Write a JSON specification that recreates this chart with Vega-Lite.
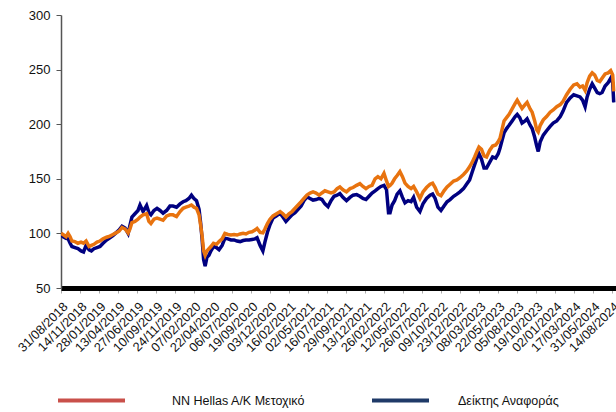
{
  "$schema": "https://vega.github.io/schema/vega-lite/v6.json",
  "width": 555,
  "height": 273,
  "autosize": {"type": "none"},
  "padding": {"left": 61, "top": 15, "right": 0, "bottom": 124},
  "background": "white",
  "config": {
    "view": {"stroke": null},
    "font": "Liberation Sans",
    "axisY": {
      "title": null,
      "grid": false,
      "labelFontSize": 13,
      "labelColor": "#111111",
      "labelPadding": 6,
      "tickSize": 5,
      "tickColor": "#555555",
      "domainColor": "#555555",
      "domainWidth": 1.5
    },
    "legend": {
      "title": null,
      "orient": "none",
      "direction": "horizontal",
      "symbolType": "stroke",
      "symbolStrokeWidth": 4,
      "labelFontSize": 12.5,
      "labelColor": "#111111",
      "labelLimit": 300
    }
  },
  "data": {
    "values": [
      {"d":"2018-08-31","nn":100,"idx":100},
      {"d":"2018-09-08","nn":99,"idx":97},
      {"d":"2018-09-20","nn":97,"idx":95.5},
      {"d":"2018-09-28","nn":100,"idx":95},
      {"d":"2018-10-06","nn":97,"idx":91},
      {"d":"2018-10-13","nn":93,"idx":88},
      {"d":"2018-10-25","nn":92.5,"idx":87},
      {"d":"2018-11-06","nn":91,"idx":86},
      {"d":"2018-11-18","nn":92,"idx":84},
      {"d":"2018-11-28","nn":91,"idx":83},
      {"d":"2018-12-08","nn":93,"idx":89},
      {"d":"2018-12-20","nn":88,"idx":85},
      {"d":"2018-12-29","nn":89,"idx":84},
      {"d":"2019-01-08","nn":90,"idx":86},
      {"d":"2019-01-20","nn":92,"idx":87},
      {"d":"2019-02-01","nn":93,"idx":88},
      {"d":"2019-02-13","nn":95,"idx":91},
      {"d":"2019-02-27","nn":96.5,"idx":94},
      {"d":"2019-03-12","nn":97.5,"idx":96},
      {"d":"2019-03-24","nn":99,"idx":98},
      {"d":"2019-04-05","nn":100.5,"idx":100.5},
      {"d":"2019-04-17","nn":102,"idx":103},
      {"d":"2019-04-29","nn":105.5,"idx":106.5},
      {"d":"2019-05-11","nn":104,"idx":105},
      {"d":"2019-05-23","nn":100.5,"idx":100},
      {"d":"2019-05-30","nn":104,"idx":107},
      {"d":"2019-06-07","nn":110,"idx":115},
      {"d":"2019-06-19","nn":111,"idx":118},
      {"d":"2019-07-01","nn":113,"idx":121},
      {"d":"2019-07-09","nn":115,"idx":126},
      {"d":"2019-07-21","nn":117,"idx":120},
      {"d":"2019-08-04","nn":118,"idx":125.5},
      {"d":"2019-08-13","nn":111,"idx":119},
      {"d":"2019-08-21","nn":109,"idx":117},
      {"d":"2019-09-02","nn":113,"idx":121},
      {"d":"2019-09-14","nn":114,"idx":123},
      {"d":"2019-09-26","nn":113,"idx":121},
      {"d":"2019-10-08","nn":112,"idx":118.5},
      {"d":"2019-10-22","nn":116,"idx":121},
      {"d":"2019-11-04","nn":117,"idx":125},
      {"d":"2019-11-16","nn":117,"idx":125},
      {"d":"2019-11-30","nn":115.5,"idx":124},
      {"d":"2019-12-14","nn":120,"idx":127},
      {"d":"2019-12-26","nn":123,"idx":129},
      {"d":"2020-01-06","nn":124,"idx":130},
      {"d":"2020-01-18","nn":125,"idx":132},
      {"d":"2020-01-28","nn":126,"idx":135},
      {"d":"2020-02-07","nn":124,"idx":132},
      {"d":"2020-02-17","nn":123,"idx":130},
      {"d":"2020-02-27","nn":117,"idx":122},
      {"d":"2020-03-04","nn":108,"idx":110},
      {"d":"2020-03-10","nn":98,"idx":95},
      {"d":"2020-03-16","nn":84,"idx":76},
      {"d":"2020-03-22","nn":80,"idx":70},
      {"d":"2020-03-29","nn":84,"idx":78},
      {"d":"2020-04-06","nn":86,"idx":80},
      {"d":"2020-04-14","nn":88,"idx":84},
      {"d":"2020-04-24","nn":91,"idx":88},
      {"d":"2020-05-06","nn":90,"idx":87},
      {"d":"2020-05-16","nn":92.5,"idx":85},
      {"d":"2020-05-28","nn":95,"idx":89},
      {"d":"2020-06-08","nn":100,"idx":95.5},
      {"d":"2020-06-20","nn":99,"idx":95},
      {"d":"2020-07-02","nn":98.5,"idx":94},
      {"d":"2020-07-14","nn":99,"idx":94},
      {"d":"2020-07-26","nn":98.5,"idx":93},
      {"d":"2020-08-07","nn":99.5,"idx":92.5},
      {"d":"2020-08-19","nn":100,"idx":93.5},
      {"d":"2020-08-30","nn":99.5,"idx":94},
      {"d":"2020-09-11","nn":101,"idx":94},
      {"d":"2020-09-23","nn":101.5,"idx":94.5},
      {"d":"2020-10-05","nn":103,"idx":95},
      {"d":"2020-10-13","nn":104.5,"idx":96},
      {"d":"2020-10-25","nn":101,"idx":89},
      {"d":"2020-11-05","nn":100.5,"idx":84},
      {"d":"2020-11-13","nn":104,"idx":92},
      {"d":"2020-11-23","nn":109,"idx":101},
      {"d":"2020-12-03","nn":113,"idx":108},
      {"d":"2020-12-15","nn":116,"idx":114},
      {"d":"2020-12-29","nn":118,"idx":116},
      {"d":"2021-01-12","nn":120,"idx":118.5},
      {"d":"2021-01-23","nn":118,"idx":115},
      {"d":"2021-02-04","nn":115,"idx":111},
      {"d":"2021-02-16","nn":118,"idx":114},
      {"d":"2021-02-28","nn":120,"idx":117},
      {"d":"2021-03-12","nn":123,"idx":119},
      {"d":"2021-03-24","nn":126,"idx":122},
      {"d":"2021-04-05","nn":129,"idx":125},
      {"d":"2021-04-16","nn":132,"idx":130},
      {"d":"2021-04-28","nn":135,"idx":133.5},
      {"d":"2021-05-10","nn":137,"idx":132},
      {"d":"2021-05-22","nn":138,"idx":130.5},
      {"d":"2021-06-03","nn":137,"idx":131},
      {"d":"2021-06-15","nn":135,"idx":132},
      {"d":"2021-06-26","nn":137,"idx":131},
      {"d":"2021-07-08","nn":139,"idx":127},
      {"d":"2021-07-20","nn":138,"idx":124.5},
      {"d":"2021-08-01","nn":137,"idx":130},
      {"d":"2021-08-13","nn":138,"idx":134},
      {"d":"2021-08-25","nn":141,"idx":135},
      {"d":"2021-09-05","nn":142.5,"idx":136.5},
      {"d":"2021-09-17","nn":140,"idx":133},
      {"d":"2021-10-01","nn":138,"idx":130},
      {"d":"2021-10-15","nn":141,"idx":133},
      {"d":"2021-10-27","nn":142,"idx":135},
      {"d":"2021-11-10","nn":144,"idx":135.5},
      {"d":"2021-11-23","nn":145.5,"idx":134},
      {"d":"2021-12-05","nn":143,"idx":132},
      {"d":"2021-12-17","nn":141,"idx":131},
      {"d":"2021-12-29","nn":143,"idx":134},
      {"d":"2022-01-10","nn":144,"idx":137},
      {"d":"2022-01-22","nn":150,"idx":139},
      {"d":"2022-02-02","nn":152,"idx":141},
      {"d":"2022-02-14","nn":150,"idx":143},
      {"d":"2022-02-26","nn":155,"idx":144},
      {"d":"2022-03-08","nn":148,"idx":140},
      {"d":"2022-03-16","nn":143,"idx":119},
      {"d":"2022-03-22","nn":144,"idx":119},
      {"d":"2022-03-30","nn":146,"idx":126},
      {"d":"2022-04-09","nn":150,"idx":130},
      {"d":"2022-04-19","nn":153,"idx":136},
      {"d":"2022-04-30","nn":156.6,"idx":139},
      {"d":"2022-05-10","nn":152,"idx":133},
      {"d":"2022-05-20","nn":146,"idx":128},
      {"d":"2022-06-01","nn":143,"idx":130},
      {"d":"2022-06-13","nn":141,"idx":129},
      {"d":"2022-06-23","nn":143,"idx":133},
      {"d":"2022-07-05","nn":138,"idx":124},
      {"d":"2022-07-18","nn":132,"idx":120},
      {"d":"2022-07-30","nn":138,"idx":127},
      {"d":"2022-08-13","nn":142,"idx":132},
      {"d":"2022-08-27","nn":145,"idx":135},
      {"d":"2022-09-06","nn":146,"idx":136},
      {"d":"2022-09-16","nn":142,"idx":132},
      {"d":"2022-09-27","nn":136,"idx":124},
      {"d":"2022-10-09","nn":134.5,"idx":121},
      {"d":"2022-10-21","nn":139,"idx":125},
      {"d":"2022-11-02","nn":142.5,"idx":129},
      {"d":"2022-11-14","nn":145,"idx":131},
      {"d":"2022-11-28","nn":148,"idx":134},
      {"d":"2022-12-11","nn":149,"idx":136},
      {"d":"2022-12-23","nn":151,"idx":138},
      {"d":"2023-01-06","nn":154,"idx":141},
      {"d":"2023-01-18","nn":157,"idx":145},
      {"d":"2023-01-30","nn":161,"idx":149},
      {"d":"2023-02-09","nn":165,"idx":156},
      {"d":"2023-02-19","nn":170,"idx":163},
      {"d":"2023-02-28","nn":175,"idx":169},
      {"d":"2023-03-08","nn":179,"idx":173},
      {"d":"2023-03-18","nn":177,"idx":168},
      {"d":"2023-03-28","nn":171,"idx":160},
      {"d":"2023-04-07","nn":170,"idx":160},
      {"d":"2023-04-19","nn":176,"idx":165},
      {"d":"2023-05-01","nn":180,"idx":170},
      {"d":"2023-05-13","nn":181,"idx":169},
      {"d":"2023-05-23","nn":184,"idx":173},
      {"d":"2023-05-30","nn":187,"idx":178},
      {"d":"2023-06-07","nn":195,"idx":185},
      {"d":"2023-06-15","nn":203,"idx":192},
      {"d":"2023-06-25","nn":206,"idx":196},
      {"d":"2023-07-05","nn":209,"idx":199},
      {"d":"2023-07-17","nn":214,"idx":203},
      {"d":"2023-07-29","nn":219,"idx":207},
      {"d":"2023-08-06","nn":222,"idx":209},
      {"d":"2023-08-16","nn":218,"idx":206},
      {"d":"2023-08-25","nn":214.5,"idx":201},
      {"d":"2023-09-06","nn":218,"idx":203},
      {"d":"2023-09-14","nn":220,"idx":205},
      {"d":"2023-09-26","nn":214,"idx":199},
      {"d":"2023-10-04","nn":211,"idx":196},
      {"d":"2023-10-14","nn":203,"idx":188},
      {"d":"2023-10-22","nn":195,"idx":180},
      {"d":"2023-10-28","nn":193,"idx":175},
      {"d":"2023-11-05","nn":199,"idx":184},
      {"d":"2023-11-17","nn":204,"idx":190},
      {"d":"2023-11-30","nn":207,"idx":194},
      {"d":"2023-12-14","nn":211,"idx":198},
      {"d":"2023-12-26","nn":213,"idx":201},
      {"d":"2024-01-09","nn":216,"idx":203},
      {"d":"2024-01-23","nn":218,"idx":207},
      {"d":"2024-02-03","nn":221,"idx":212},
      {"d":"2024-02-17","nn":227,"idx":220},
      {"d":"2024-03-02","nn":232,"idx":224},
      {"d":"2024-03-16","nn":236,"idx":227},
      {"d":"2024-03-29","nn":237,"idx":226},
      {"d":"2024-04-10","nn":234,"idx":225},
      {"d":"2024-04-20","nn":235,"idx":222},
      {"d":"2024-04-30","nn":231,"idx":216},
      {"d":"2024-05-08","nn":238,"idx":225},
      {"d":"2024-05-18","nn":244,"idx":232},
      {"d":"2024-05-28","nn":247,"idx":237},
      {"d":"2024-06-07","nn":245,"idx":233},
      {"d":"2024-06-17","nn":240,"idx":229},
      {"d":"2024-06-27","nn":239,"idx":228},
      {"d":"2024-07-06","nn":242,"idx":229},
      {"d":"2024-07-18","nn":246,"idx":235},
      {"d":"2024-07-30","nn":247,"idx":238},
      {"d":"2024-08-09","nn":249,"idx":242},
      {"d":"2024-08-17","nn":245,"idx":238},
      {"d":"2024-08-21","nn":230,"idx":220}
    ]
  },
  "encoding": {
    "x": {
      "field": "d",
      "type": "temporal",
      "scale": {
        "type": "utc",
        "domain": [
          {"year": 2018, "month": 8, "date": 31, "utc": true},
          {"year": 2024, "month": 8, "date": 30, "utc": true}
        ]
      },
      "axis": {
        "title": null,
        "grid": false,
        "values": [
          {"year":2018,"month":8,"date":31,"utc":true},
          {"year":2018,"month":11,"date":14,"utc":true},
          {"year":2019,"month":1,"date":28,"utc":true},
          {"year":2019,"month":4,"date":13,"utc":true},
          {"year":2019,"month":6,"date":27,"utc":true},
          {"year":2019,"month":9,"date":10,"utc":true},
          {"year":2019,"month":11,"date":24,"utc":true},
          {"year":2020,"month":2,"date":7,"utc":true},
          {"year":2020,"month":4,"date":22,"utc":true},
          {"year":2020,"month":7,"date":6,"utc":true},
          {"year":2020,"month":9,"date":19,"utc":true},
          {"year":2020,"month":12,"date":3,"utc":true},
          {"year":2021,"month":2,"date":16,"utc":true},
          {"year":2021,"month":5,"date":2,"utc":true},
          {"year":2021,"month":7,"date":16,"utc":true},
          {"year":2021,"month":9,"date":29,"utc":true},
          {"year":2021,"month":12,"date":13,"utc":true},
          {"year":2022,"month":2,"date":26,"utc":true},
          {"year":2022,"month":5,"date":12,"utc":true},
          {"year":2022,"month":7,"date":26,"utc":true},
          {"year":2022,"month":10,"date":9,"utc":true},
          {"year":2022,"month":12,"date":23,"utc":true},
          {"year":2023,"month":3,"date":8,"utc":true},
          {"year":2023,"month":5,"date":22,"utc":true},
          {"year":2023,"month":8,"date":5,"utc":true},
          {"year":2023,"month":10,"date":19,"utc":true},
          {"year":2024,"month":1,"date":2,"utc":true},
          {"year":2024,"month":3,"date":17,"utc":true},
          {"year":2024,"month":5,"date":31,"utc":true},
          {"year":2024,"month":8,"date":14,"utc":true}
        ],
        "labelExpr": "utcFormat(datum.value, '%d/%m/%Y')",
        "labelAngle": -45,
        "labelFontSize": 12.8,
        "labelColor": "#111111",
        "labelPadding": 7,
        "labelOverlap": false,
        "labelFlush": false,
        "labelBound": false,
        "domainColor": "#000000",
        "domainWidth": 5,
        "tickColor": "#aaaaaa",
        "tickSize": 5,
        "tickWidth": 1
      }
    }
  },
  "layer": [
    {
      "mark": {"type": "line", "strokeWidth": 1, "clip": true},
      "encoding": {
        "y": {
          "field": "idx",
          "type": "quantitative",
          "scale": {"domain": [50, 300], "nice": false, "zero": false},
          "axis": {"values": [50, 100, 150, 200, 250, 300]}
        },
        "color": {
          "datum": "Δείκτης Αναφοράς",
          "type": "nominal",
          "scale": {"range": ["#1F3A68"]},
          "legend": {
            "legendX": 309,
            "legendY": 355,
            "symbolSize": 3249,
            "labelOffset": 27
          }
        }
      }
    },
    {
      "mark": {"type": "line", "strokeWidth": 1, "clip": true},
      "encoding": {
        "y": {
          "field": "nn",
          "type": "quantitative",
          "axis": {"values": [50, 100, 150, 200, 250, 300]}
        },
        "color": {
          "datum": "NN Hellas A/K Μετοχικό",
          "type": "nominal",
          "scale": {"range": ["#C9504A"]},
          "legend": {
            "legendX": -5,
            "legendY": 350,
            "symbolSize": 4489,
            "labelOffset": 45
          }
        }
      }
    },
    {
      "mark": {"type": "line", "strokeWidth": 3.5, "color": "#000080", "clip": true},
      "encoding": {
        "y": {
          "field": "idx",
          "type": "quantitative",
          "axis": {"values": [50, 100, 150, 200, 250, 300]}
        }
      }
    },
    {
      "mark": {"type": "line", "strokeWidth": 3.5, "color": "#E8730F", "clip": true},
      "encoding": {
        "y": {
          "field": "nn",
          "type": "quantitative",
          "axis": {"values": [50, 100, 150, 200, 250, 300]}
        }
      }
    }
  ],
  "resolve": {"scale": {"color": "independent"}}
}
